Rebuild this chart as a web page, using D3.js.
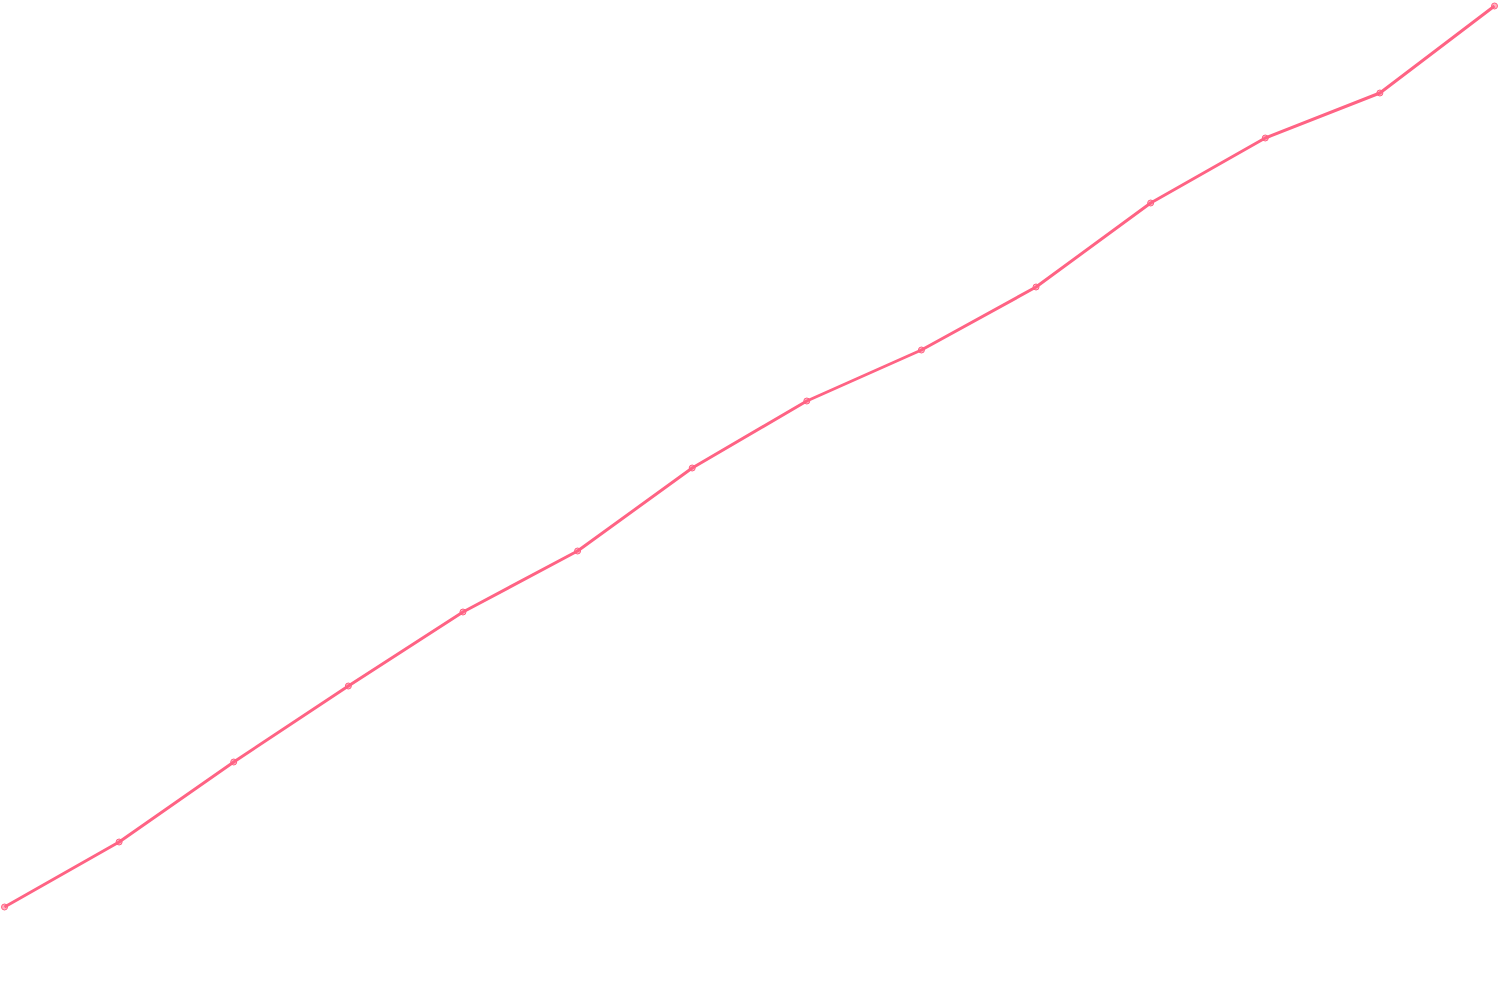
<!DOCTYPE html>
<html>
<head>
<meta charset="utf-8">
<script src="https://cdn.jsdelivr.net/npm/d3@7"></script>
<style>
  html, body { margin: 0; padding: 0; background: #fff; }
  svg { display: block; }
</style>
</head>
<body>
<div id="chart"></div>
<script>
var labels = ['1', '2', '3', '4', '5', '6', '7', '8', '9', '10', '11', '12', '13', '14'];
var values = [9.3, 15.8, 23.8, 31.4, 38.8, 44.9, 53.2, 59.9, 65.0, 71.3, 79.7, 86.2, 90.7, 99.4];

var width = 1500, height = 1000;

var svg = d3.select('#chart').append('svg')
  .attr('width', width)
  .attr('height', height);

var x = d3.scalePoint().domain(labels).range([4.5, 1494.5]);
var y = d3.scaleLinear().domain([0, 100]).range([1000, 0]);

var line = d3.line()
  .x(function(d, i) { return x(labels[i]); })
  .y(function(d) { return y(d); });

svg.append('path')
  .datum(values)
  .attr('fill', 'none')
  .attr('stroke', '#ff6384')
  .attr('stroke-width', 3)
  .attr('stroke-linejoin', 'round')
  .attr('d', line);

svg.selectAll('circle.pt')
  .data(values)
  .enter().append('circle')
  .attr('class', 'pt')
  .attr('cx', function(d, i) { return x(labels[i]); })
  .attr('cy', function(d) { return y(d); })
  .attr('r', 3)
  .attr('fill', 'rgba(255, 99, 132, 0.5)')
  .attr('stroke', '#ff6384')
  .attr('stroke-width', 1);
</script>
</body>
</html>
